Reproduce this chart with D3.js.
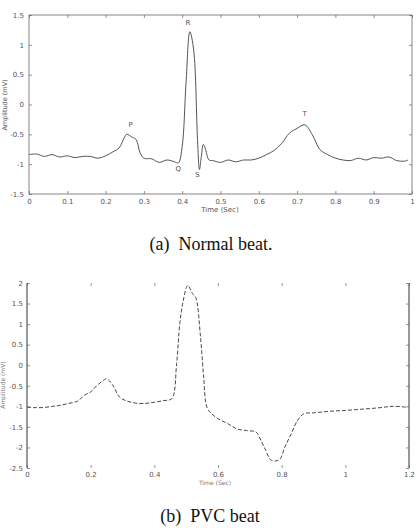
<!DOCTYPE html>
<html>
<head>
  <meta charset="utf-8">
  <title>ECG beats</title>
  <script src="https://d3js.org/d3.v7.min.js"></script>
  <style>
    body { margin: 0; background: #fff; }
    .tick text { font-family: "DejaVu Sans", sans-serif; fill: #555; }
  </style>
</head>
<body>
  <div id="chart"></div>
  <script type="text/javascript">
    // normal beat, time (s) and amplitude (mV)
    var normalTime = [0, 0.02, 0.04, 0.06, 0.08, 0.10, 0.12, 0.14, 0.16, 0.18, 0.20, 0.22, 0.235, 0.25, 0.255,
      0.27, 0.28, 0.29, 0.30, 0.32, 0.34, 0.36, 0.38, 0.39, 0.40, 0.41, 0.42, 0.43, 0.44, 0.445, 0.45, 0.455,
      0.46, 0.47, 0.48, 0.50, 0.52, 0.54, 0.56, 0.58, 0.60, 0.62, 0.64, 0.66, 0.68, 0.70, 0.72, 0.74, 0.76,
      0.78, 0.80, 0.82, 0.84, 0.86, 0.88, 0.90, 0.92, 0.94, 0.96, 0.98, 0.99];
    var normalAmp = [-0.84, -0.83, -0.87, -0.84, -0.88, -0.86, -0.89, -0.87, -0.87, -0.90, -0.86, -0.79, -0.73, -0.54, -0.50,
      -0.55, -0.59, -0.81, -0.90, -0.91, -0.97, -0.93, -0.96, -0.98, -0.70, 0.36, 1.22, 0.91, -0.59, -1.09, -0.87, -0.67,
      -0.73, -0.93, -0.94, -0.97, -0.93, -0.96, -0.93, -0.93, -0.90, -0.84, -0.77, -0.65, -0.48, -0.40, -0.34, -0.51, -0.76,
      -0.84, -0.90, -0.93, -0.94, -0.90, -0.93, -0.89, -0.90, -0.88, -0.94, -0.95, -0.93];
    var normalLabels = ["P", "Q", "R", "S", "T"];
    var normalLabelTime = [0.265, 0.39, 0.415, 0.44, 0.72];
    var normalLabelAmp = [-0.38, -1.12, 1.34, -1.22, -0.2];
    var normalXTicks = [0, 0.1, 0.2, 0.3, 0.4, 0.5, 0.6, 0.7, 0.8, 0.9, 1];
    var normalYTicks = [-1.5, -1, -0.5, 0, 0.5, 1, 1.5];

    // PVC beat
    var pvcTime = [0, 0.02, 0.05, 0.08, 0.10, 0.13, 0.16, 0.18, 0.20, 0.22, 0.24, 0.25, 0.27, 0.29, 0.31, 0.34,
      0.37, 0.40, 0.43, 0.455, 0.47, 0.48, 0.49, 0.505, 0.52, 0.53, 0.545, 0.555, 0.565, 0.58, 0.60, 0.63, 0.66,
      0.69, 0.72, 0.735, 0.75, 0.765, 0.78, 0.795, 0.81, 0.83, 0.85, 0.87, 0.90, 0.95, 1.00, 1.05, 1.10, 1.15, 1.19];
    var pvcAmp = [-1.02, -1.03, -1.03, -1.00, -0.98, -0.93, -0.87, -0.73, -0.65, -0.49, -0.37, -0.33, -0.49, -0.77, -0.86, -0.92,
      -0.93, -0.90, -0.86, -0.81, 0.04, 1.01, 1.54, 1.94, 1.74, 1.65, 0.69, -0.29, -1.02, -1.18, -1.30, -1.42, -1.55,
      -1.59, -1.63, -1.83, -2.07, -2.30, -2.33, -2.28, -1.99, -1.67, -1.34, -1.18, -1.16, -1.12, -1.10, -1.07, -1.04, -1.00, -1.02];
    var pvcXTicks = [0, 0.2, 0.4, 0.6, 0.8, 1, 1.2];
    var pvcYTicks = [-2.5, -2, -1.5, -1, -0.5, 0, 0.5, 1, 1.5, 2];

    // plain hyphen minus, like the original figure
    var fmt = function (d) { return String(d).replace("\u2212", "-"); };

    var svg = d3.select("#chart").append("svg")
      .attr("width", 420)
      .attr("height", 528);

    function styleAxis(sel, size) {
      sel.select(".domain").remove();
      sel.selectAll(".tick line").attr("stroke", "#666").attr("stroke-width", 0.7);
      sel.selectAll(".tick text").style("font-size", size + "px");
    }

    // ---------- (a) normal beat ----------
    var x1 = d3.scaleLinear().domain([0, 1]).range([29, 412]);
    var y1 = d3.scaleLinear().domain([-1.5, 1.5]).range([194, 15]);
    var g1 = svg.append("g");

    g1.append("rect")
      .attr("x", 29).attr("y", 15)
      .attr("width", 412 - 29).attr("height", 194 - 15)
      .attr("fill", "none").attr("stroke", "#666").attr("stroke-width", 0.8);

    g1.append("g").attr("transform", "translate(0,194)")
      .call(d3.axisBottom(x1).tickValues(normalXTicks).tickSize(-3).tickPadding(5).tickFormat(fmt))
      .call(styleAxis, 7);
    g1.append("g").attr("transform", "translate(0,15)")
      .call(d3.axisTop(x1).tickValues(normalXTicks).tickSize(-3).tickFormat(""))
      .call(styleAxis, 7);
    g1.append("g").attr("transform", "translate(29,0)")
      .call(d3.axisLeft(y1).tickValues(normalYTicks).tickSize(-3).tickPadding(5).tickFormat(fmt))
      .call(styleAxis, 7);
    g1.append("g").attr("transform", "translate(412,0)")
      .call(d3.axisRight(y1).tickValues(normalYTicks).tickSize(-3).tickFormat(""))
      .call(styleAxis, 7);

    var line1 = d3.line()
      .x(function (d) { return x1(d[0]); })
      .y(function (d) { return y1(d[1]); })
      .curve(d3.curveCatmullRom);
    g1.append("path")
      .datum(d3.zip(normalTime, normalAmp))
      .attr("d", line1)
      .attr("fill", "none")
      .attr("stroke", "#555")
      .attr("stroke-width", 1);

    g1.selectAll(".wave")
      .data(normalLabels)
      .enter().append("text")
      .attr("class", "wave")
      .attr("x", function (d, i) { return x1(normalLabelTime[i]); })
      .attr("y", function (d, i) { return y1(normalLabelAmp[i]); })
      .attr("text-anchor", "middle")
      .style("font-family", "DejaVu Sans, sans-serif")
      .style("font-size", "7px")
      .attr("fill", "#555")
      .text(function (d) { return d; });

    g1.append("text")
      .attr("x", 220).attr("y", 212)
      .attr("text-anchor", "middle")
      .style("font-family", "DejaVu Sans, sans-serif")
      .style("font-size", "7px")
      .attr("fill", "#555")
      .text("Time (Sec)");
    g1.append("text")
      .attr("transform", "translate(7,105) rotate(-90)")
      .attr("text-anchor", "middle")
      .style("font-family", "DejaVu Sans, sans-serif")
      .style("font-size", "6.5px")
      .attr("fill", "#555")
      .text("Amplitude (mV)");

    svg.append("text")
      .attr("x", 211).attr("y", 250)
      .attr("text-anchor", "middle")
      .style("font-family", "Liberation Serif, serif")
      .style("font-size", "18px")
      .attr("fill", "#111")
      .text("(a)\u00a0 Normal beat.");

    // ---------- (b) PVC beat ----------
    var x2 = d3.scaleLinear().domain([0, 1.2]).range([27, 409]);
    var y2 = d3.scaleLinear().domain([-2.5, 2]).range([468, 283]);
    var g2 = svg.append("g");

    g2.append("line").attr("x1", 27).attr("x2", 27).attr("y1", 283).attr("y2", 468)
      .attr("stroke", "#333").attr("stroke-width", 1);
    g2.append("line").attr("x1", 409).attr("x2", 409).attr("y1", 283).attr("y2", 468)
      .attr("stroke", "#333").attr("stroke-width", 1);

    g2.append("g").attr("transform", "translate(0,468)")
      .call(d3.axisBottom(x2).tickValues(pvcXTicks).tickSize(-3).tickPadding(4).tickFormat(fmt))
      .call(styleAxis, 7);
    g2.append("g").attr("transform", "translate(0,283)")
      .call(d3.axisTop(x2).tickValues(pvcXTicks).tickSize(-3).tickFormat(""))
      .call(styleAxis, 7);
    g2.append("g").attr("transform", "translate(27,0)")
      .call(d3.axisLeft(y2).tickValues(pvcYTicks).tickSize(-3).tickPadding(4).tickFormat(fmt))
      .call(styleAxis, 7);
    g2.append("g").attr("transform", "translate(409,0)")
      .call(d3.axisRight(y2).tickValues(pvcYTicks).tickSize(-3).tickFormat(""))
      .call(styleAxis, 7);

    var line2 = d3.line()
      .x(function (d) { return x2(d[0]); })
      .y(function (d) { return y2(d[1]); })
      .curve(d3.curveCatmullRom);
    g2.append("path")
      .datum(d3.zip(pvcTime, pvcAmp))
      .attr("d", line2)
      .attr("fill", "none")
      .attr("stroke", "#333")
      .attr("stroke-width", 0.9)
      .attr("stroke-dasharray", "4,2");

    g2.append("text")
      .attr("x", 215).attr("y", 485)
      .attr("text-anchor", "middle")
      .style("font-family", "DejaVu Sans, sans-serif")
      .style("font-size", "6px")
      .attr("fill", "#777")
      .text("Time (Sec)");
    g2.append("text")
      .attr("transform", "translate(5,385) rotate(-90)")
      .attr("text-anchor", "middle")
      .style("font-family", "DejaVu Sans, sans-serif")
      .style("font-size", "6px")
      .attr("fill", "#777")
      .text("Amplitude (mV)");

    svg.append("text")
      .attr("x", 210).attr("y", 522)
      .attr("text-anchor", "middle")
      .style("font-family", "Liberation Serif, serif")
      .style("font-size", "18px")
      .attr("fill", "#111")
      .text("(b)\u00a0 PVC beat");
  </script>
</body>
</html>
